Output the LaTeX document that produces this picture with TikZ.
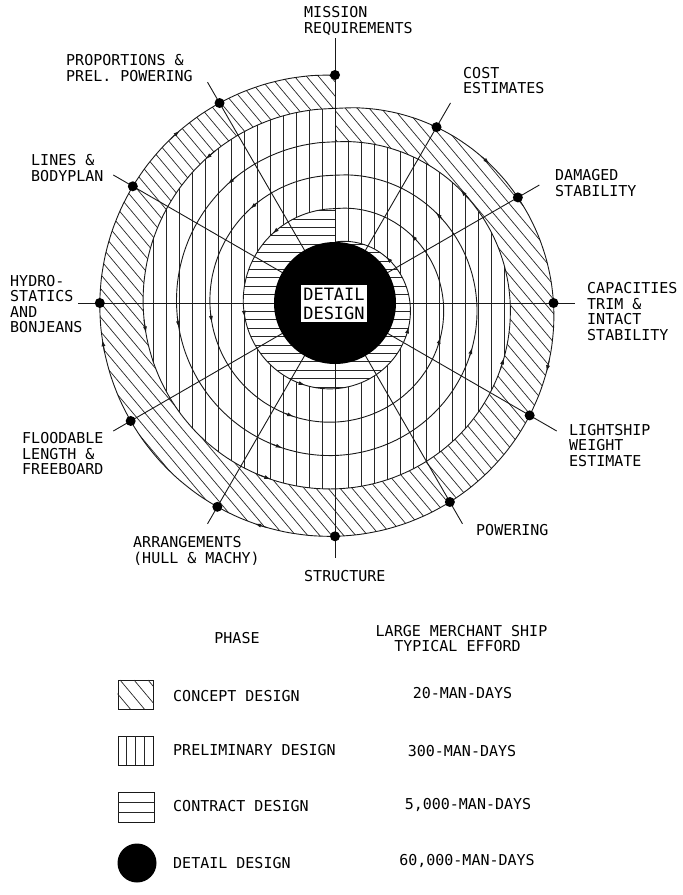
\documentclass[tikz,border=0pt]{standalone}
\usepackage{fontspec}
\setmonofont{DejaVu Sans Mono}
\usetikzlibrary{arrows.meta}
\begin{document}
\begin{tikzpicture}[x=1pt,y=-1pt,
  declare function={
    rs(\u,\m)=61+33.4*(\m+\u/360)+8*sin(\u/2);
    ro(\u)=194.6+33.4*\u/360+22*sin(\u/2);
  },
  curve/.style={line width=0.9pt, draw=black!90},
  hatch/.style={line width=0.7pt, draw=black!85},
  radial/.style={line width=0.9pt, draw=black!90},
  tipped/.style={line width=0.9pt, draw=black!90, -{Latex[length=6.5pt,width=4pt]}},
  lab/.style={font=\ttfamily\fontsize{15}{15.5}\selectfont, align=left, inner sep=0pt, anchor=west},
  leg/.style={font=\ttfamily\fontsize{15}{15.5}\selectfont, align=center, inner sep=0pt},
  dot/.style={circle, fill=black, inner sep=0pt, minimum size=10pt},
  legbox/.style={draw=black!90, line width=0.9pt, inner sep=0pt},
]
\useasboundingbox (0,0) rectangle (683,895);
\coordinate (c) at (335,303);

% concept band (diagonal hatch)
\begin{scope}
\clip plot[smooth, domain=0:360, samples=61, variable=\t] ({335+ro(\t)*sin(\t)},{303-ro(\t)*cos(\t)}) -- cycle;
\foreach \q in {-348,-336,...,564} \draw[hatch] (\q,40) -- ({\q+0.839*520},560);
\end{scope}

% preliminary band (vertical hatch)
\fill[white] plot[smooth, domain=0:360, samples=61, variable=\t] ({335+rs(\t,3)*sin(\t)},{303-rs(\t,3)*cos(\t)}) -- cycle;
\begin{scope}
\clip plot[smooth, domain=0:360, samples=61, variable=\t] ({335+rs(\t,3)*sin(\t)},{303-rs(\t,3)*cos(\t)}) -- cycle;
\foreach \i in {-19,...,19} \draw[hatch] ({335+13*\i},60) -- ({335+13*\i},550);
\end{scope}

% contract band (horizontal hatch)
\fill[white] plot[smooth, domain=0:360, samples=61, variable=\t] ({335+rs(\t,0)*sin(\t)},{303-rs(\t,0)*cos(\t)}) -- cycle;
\begin{scope}
\clip plot[smooth, domain=0:360, samples=61, variable=\t] ({335+rs(\t,0)*sin(\t)},{303-rs(\t,0)*cos(\t)}) -- cycle;
\foreach \i in {-14,...,14} \draw[hatch] (220,{303+8.4*\i}) -- (450,{303+8.4*\i});
\end{scope}

% radial lines
\foreach \a/\rr/\n in {360/265/1,30/231/2,60/236/3,90/240/4,120/256/5,150/255/6,180/255/7,210/255/8,240/256/9,270/257/10,300/256/11,330/255/12}{
  \coordinate (e\n) at ({335+\rr*sin(\a)},{303-\rr*cos(\a)});
  \draw[radial] (c) -- (e\n);
}

% spiral curves
\foreach \k in {0,1,2,3}{
  \draw[curve] plot[smooth, domain=0:360, samples=61, variable=\t] ({335+rs(\t,\k)*sin(\t)},{303-rs(\t,\k)*cos(\t)});
  \foreach \a in {48,108,200,261,318}
    \draw[tipped] ({335+rs(\a+4,\k)*sin(\a+4)},{303-rs(\a+4,\k)*cos(\a+4)}) -- ({335+rs(\a,\k)*sin(\a)},{303-rs(\a,\k)*cos(\a)});
}
\draw[curve] plot[smooth, domain=0:360, samples=61, variable=\t] ({335+ro(\t)*sin(\t)},{303-ro(\t)*cos(\t)});
\foreach \a in {48,108,200,261,318}
  \draw[tipped] ({335+ro(\a-3)*sin(\a-3)},{303-ro(\a-3)*cos(\a-3)}) -- ({335+ro(\a)*sin(\a)},{303-ro(\a)*cos(\a)});

% detail design core
\fill[black] (c) circle[radius=61];
\node[fill=white, inner sep=2.5pt, font=\ttfamily\fontsize{17}{19}\selectfont, align=center] (core) at (334,303.5) {DETAIL\\DESIGN};

% dots
\foreach \a/\n in {360/1,30/2,60/3,90/4,120/5,150/6,180/7,210/8,240/9,270/10,300/11,330/12}
  \node[dot] (d\n) at ({335+ro(\a)*sin(\a)},{303-ro(\a)*cos(\a)}) {};

% labels
\node[lab] (l1) at (304,21) {MISSION\\REQUIREMENTS};
\node[lab] (l2) at (463,80.5) {COST\\ESTIMATES};
\node[lab] (l3) at (555,183) {DAMAGED\\STABILITY};
\node[lab] (l4) at (587,311.5) {CAPACITIES\\TRIM \&\\INTACT\\STABILITY};
\node[lab] (l5) at (569,445.5) {LIGHTSHIP\\WEIGHT\\ESTIMATE};
\node[lab] (l6) at (476,530) {POWERING};
\node[lab] (l7) at (304,576) {STRUCTURE};
\node[lab] (l8) at (133,551) {ARRANGEMENTS\\(HULL \& MACHY)};
\node[lab] (l9) at (22,454) {FLOODABLE\\LENGTH \&\\FREEBOARD};
\node[lab] (l10) at (10,304) {HYDRO-\\STATICS\\AND\\BONJEANS};
\node[lab] (l11) at (31,168) {LINES \&\\BODYPLAN};
\node[lab] (l12) at (66,68) {PROPORTIONS \&\\PREL. POWERING};

% legend header
\node[leg] (hphase) at (237,638) {PHASE};
\node[leg] (heff1) at (461.5,631) {LARGE MERCHANT SHIP};
\node[leg] (heff2) at (457.5,646) {TYPICAL EFFORD};

% legend symbols
\node[legbox, minimum width=35pt, minimum height=29pt] (b1) at (135.5,694.5) {};
\begin{scope}
\clip (b1.south west) rectangle (b1.north east);
\foreach \q in {92,106,120,134,148} \draw[hatch] (\q,680) -- ({\q+0.839*29},709);
\end{scope}
\node[legbox, minimum width=35pt, minimum height=29pt] (b2) at (135.5,750.5) {};
\foreach \xx in {126.75,135.5,144.25} \draw[hatch] (\xx,736) -- (\xx,765);
\node[legbox, minimum width=36pt, minimum height=30pt] (b3) at (136,807) {};
\foreach \yy in {802,812} \draw[hatch] (118,\yy) -- (154,\yy);
\node[circle, fill=black, minimum size=39pt, inner sep=0pt] (b4) at (137,863) {};

% legend texts
\node[lab] (t1) at (173,696) {CONCEPT DESIGN};
\node[lab] (t2) at (173,750) {PRELIMINARY DESIGN};
\node[lab] (t3) at (173,806) {CONTRACT DESIGN};
\node[lab] (t4) at (173,863) {DETAIL DESIGN};
\node[leg] (m1) at (462.5,693) {20-MAN-DAYS};
\node[leg] (m2) at (462,751) {300-MAN-DAYS};
\node[leg] (m3) at (468,805) {5,000-MAN-DAYS};
\node[leg] (m4) at (467,861) {60,000-MAN-DAYS};
\end{tikzpicture}
\end{document}
